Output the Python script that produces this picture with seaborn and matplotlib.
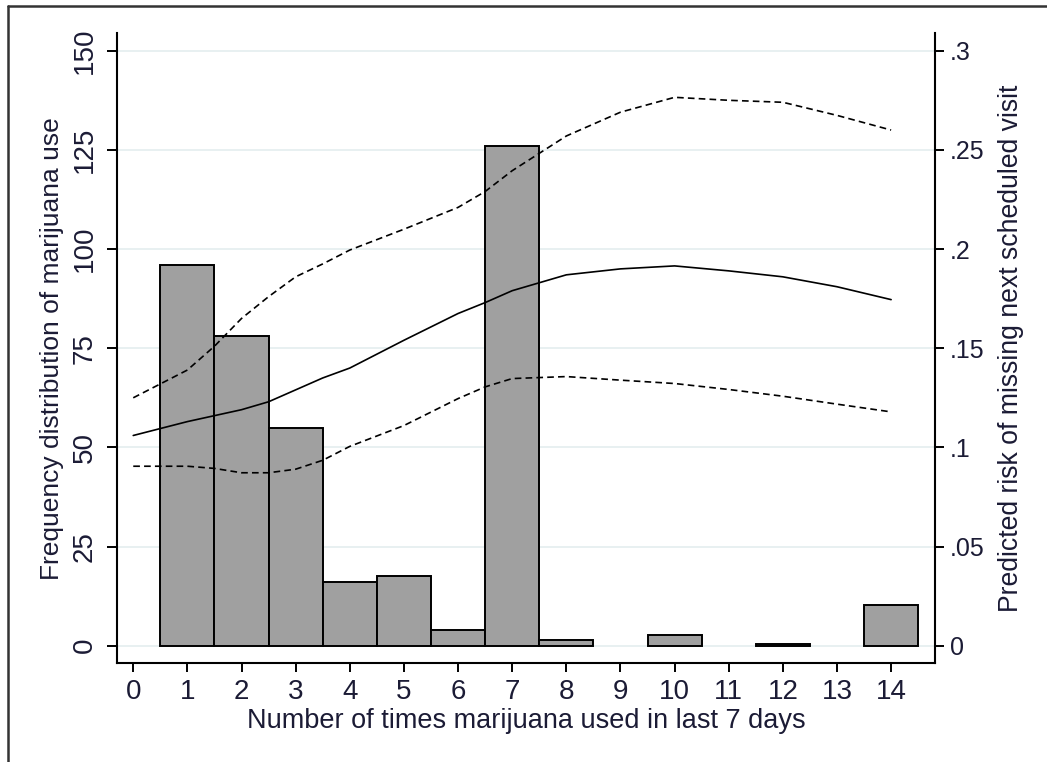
import pandas as pd
import matplotlib
matplotlib.use("Agg")
import matplotlib.pyplot as plt
from matplotlib.lines import Line2D
import seaborn as sns

# Histogram: number of times used in last 7 days -> frequency
use_times = [1, 2, 3, 4, 5, 6, 7, 8, 10, 12, 14]
use_freq = [96, 78, 55, 16, 17.5, 4, 126, 1.4, 2.6, 0.4, 10.3]

# Predicted risk of missing next visit, with confidence band
risk_x = [0, 1, 1.5, 2, 2.5, 3, 3.5, 4, 5, 6, 6.5, 7, 8, 9, 10, 11, 12, 13, 14]
risk_pred = [.106, .113, .116, .119, .123, .129, .135, .140, .154, .1675,
             .173, .179, .187, .190, .1915, .189, .186, .181, .1745]
risk_upper = [.125, .139, .151, .165, .176, .186, .1925, .1995, .210, .221,
              .229, .2395, .257, .269, .2765, .275, .274, .2674, .260]
risk_lower = [.0905, .0905, .0894, .0872, .0872, .089, .0935, .1005, .111, .1246,
              .1305, .1347, .1357, .1339, .1322, .1292, .1258, .1218, .1179]

x_ticks = list(range(15))
freq_ticks = [0, 25, 50, 75, 100, 125, 150]
risk_ticks = [0, .05, .1, .15, .2, .25, .3]
risk_tick_labels = ['0', '.05', '.1', '.15', '.2', '.25', '.3']

sns.set_style("white")
plt.rcParams['font.family'] = ['Liberation Sans', 'DejaVu Sans']
TXT = '#1b1b35'

fig = plt.figure(figsize=(10.47, 7.62), dpi=100)
ax = fig.add_axes([0.1117, 0.1299, 0.7813, 0.8264])

# =====================================
# Frequency bars
# =====================================
bars = pd.DataFrame({'times': use_times, 'freq': use_freq})
sns.barplot(data=bars, x='times', y='freq', native_scale=True, width=1,
            color='#a0a0a0', saturation=1, edgecolor='black', linewidth=1.4,
            errorbar=None, ax=ax)

ax.set_ylim(-4.36, 154.39)
ax.set_yticks(freq_ticks, labels=[str(t) for t in freq_ticks],
              rotation=90, va='center')
ax.set_xticks(x_ticks, labels=[str(t) for t in x_ticks])
ax.yaxis.grid(True, color='#e6eff0', linewidth=1.3)
ax.xaxis.grid(False)
ax.set_axisbelow(True)

# =====================================
# Predicted risk lines
# =====================================
ax2 = ax.twinx()
risk = pd.DataFrame({'x': risk_x, 'pred': risk_pred,
                     'upper': risk_upper, 'lower': risk_lower})
sns.lineplot(data=risk, x='x', y='pred', color='black', linewidth=1.2, ax=ax2)
sns.lineplot(data=risk, x='x', y='upper', color='black', linewidth=1.2,
             linestyle=(0, (4, 2.5)), ax=ax2)
sns.lineplot(data=risk, x='x', y='lower', color='black', linewidth=1.2,
             linestyle=(0, (4, 2.5)), ax=ax2)

ax2.set_ylim(-0.00872, 0.30878)
ax2.set_yticks(risk_ticks, labels=risk_tick_labels)
ax.set_xlim(-0.301, 14.81)

# spines and ticks
for s in ['top', 'right']:
    ax.spines[s].set_visible(False)
for s in ['top', 'left', 'bottom']:
    ax2.spines[s].set_visible(False)
for s in ['left', 'bottom']:
    ax.spines[s].set_color('black')
    ax.spines[s].set_linewidth(1.5)
ax2.spines['right'].set_color('black')
ax2.spines['right'].set_linewidth(1.5)

ax.tick_params(axis='x', bottom=True, direction='out', length=6.5, width=1.4,
               color='black', pad=5, labelsize=20, labelcolor=TXT)
ax.tick_params(axis='y', left=True, direction='out', length=7, width=1.4,
               color='black', pad=7, labelsize=20, labelcolor=TXT)
ax2.tick_params(axis='y', right=True, direction='out', length=6.5, width=1.4,
                color='black', pad=4, labelsize=18, labelcolor=TXT)

# axis titles
ax.set_xlabel("Number of times marijuana used in last 7 days",
              fontsize=19.5, color=TXT, va='baseline')
ax.xaxis.set_label_coords(0.5, -0.1032)
ax.set_ylabel("Frequency distribution of marijuana use",
              fontsize=19, color=TXT, rotation=90,
              rotation_mode='anchor', ha='center', va='baseline')
ax.yaxis.set_label_coords(-0.0709, 0.5)
ax2.set_ylabel("Predicted risk of missing next scheduled visit",
               fontsize=19.2, color=TXT, rotation=90,
               rotation_mode='anchor', ha='center', va='baseline')
ax2.yaxis.set_label_coords(1.1009, 0.5)

# outer frame (left and top edges)
fx = 8.3 / 1047
fy = 1 - 6 / 762
fig.add_artist(Line2D([fx, fx], [0, fy], transform=fig.transFigure,
                      color='#333333', linewidth=1.8))
fig.add_artist(Line2D([fx, 1], [fy, fy], transform=fig.transFigure,
                      color='#333333', linewidth=1.8))

fig.savefig("out.png", dpi=100)
